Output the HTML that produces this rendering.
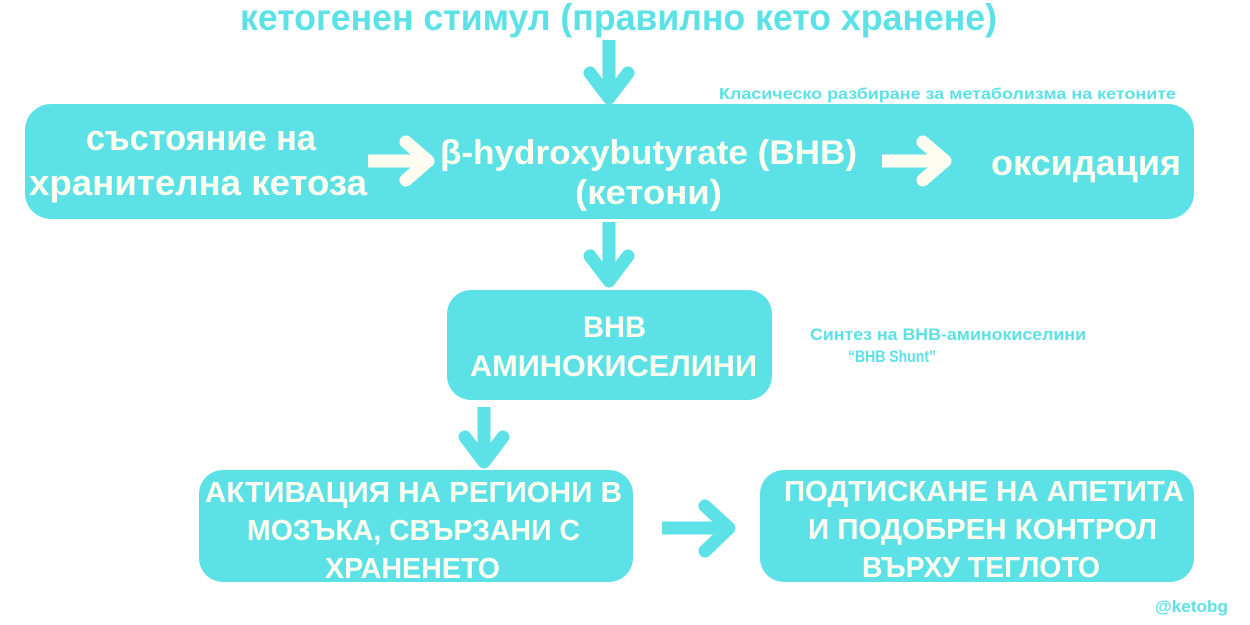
<!DOCTYPE html>
<html><head><meta charset="utf-8"><style>
html,body{margin:0;padding:0;background:#fff;width:1250px;height:625px;overflow:hidden}
svg{display:block}
text{font-family:"Liberation Sans","Noto Sans CJK SC",sans-serif;font-weight:bold}
.w{fill:#fffdf0}
.c{fill:#5ce1e6}
</style></head><body>
<svg width="1250" height="625" viewBox="0 0 1250 625" xmlns="http://www.w3.org/2000/svg">
<g fill="#5ce1e6">
<rect x="25" y="104" width="1169" height="115" rx="26"/>
<rect x="447" y="290" width="325" height="110" rx="24"/>
<rect x="199" y="470" width="434" height="112" rx="24"/>
<rect x="760" y="470" width="434" height="112" rx="24"/>
</g>
<g stroke="#5ce1e6" fill="none" stroke-width="13" stroke-linejoin="round">
<line x1="609" y1="40" x2="609" y2="95"/>
<polyline points="590,73 609,98 628,73" stroke-linecap="round"/>
<line x1="609" y1="222" x2="609" y2="278"/>
<polyline points="590,256 609,281 628,256" stroke-linecap="round"/>
<line x1="484" y1="407" x2="484" y2="460"/>
<polyline points="465,437 484,462 503,437" stroke-linecap="round"/>
<line x1="662" y1="528" x2="727" y2="528"/>
<polyline points="705,506 729,528 705,551" stroke-linecap="round"/>
</g>
<g stroke="#fffdf0" fill="none" stroke-width="13" stroke-linejoin="round">
<line x1="368" y1="161" x2="425" y2="161"/>
<polyline points="406,142 428,161 406,180" stroke-linecap="round"/>
<line x1="882" y1="161" x2="942" y2="161"/>
<polyline points="923,142 945,161 923,180" stroke-linecap="round"/>
</g>
<text class="c" x="240" y="30" font-size="37" textLength="757" lengthAdjust="spacingAndGlyphs">кетогенен стимул (правилно кето хранене)</text>
<text class="c" x="719" y="99" font-size="16" textLength="457" lengthAdjust="spacingAndGlyphs">Класическо разбиране за метаболизма на кетоните</text>
<text class="w" x="86" y="150" font-size="36" textLength="230" lengthAdjust="spacingAndGlyphs">състояние на</text>
<text class="w" x="29" y="195" font-size="36" textLength="338" lengthAdjust="spacingAndGlyphs">хранителна кетоза</text>
<text class="w" x="440" y="164" font-size="34" textLength="417" lengthAdjust="spacingAndGlyphs">β-hydroxybutyrate (BHB)</text>
<text class="w" x="575" y="204" font-size="34" textLength="147" lengthAdjust="spacingAndGlyphs">(кетони)</text>
<text class="w" x="991" y="175" font-size="36" textLength="190" lengthAdjust="spacingAndGlyphs">оксидация</text>
<text class="w" x="583" y="337" font-size="30" textLength="63" lengthAdjust="spacingAndGlyphs">BHB</text>
<text class="w" x="470" y="376" font-size="30" textLength="287" lengthAdjust="spacingAndGlyphs">АМИНОКИСЕЛИНИ</text>
<text class="c" x="810" y="340" font-size="17" textLength="276" lengthAdjust="spacingAndGlyphs">Синтез на BHB-аминокиселини</text>
<text class="c" x="848" y="362" font-size="17" textLength="88" lengthAdjust="spacingAndGlyphs">“BHB Shunt”</text>
<text class="w" x="205" y="502" font-size="29" textLength="417" lengthAdjust="spacingAndGlyphs">АКТИВАЦИЯ НА РЕГИОНИ В</text>
<text class="w" x="247" y="540" font-size="29" textLength="333" lengthAdjust="spacingAndGlyphs">МОЗЪКА, СВЪРЗАНИ С</text>
<text class="w" x="325" y="578" font-size="29" textLength="175" lengthAdjust="spacingAndGlyphs">ХРАНЕНЕТО</text>
<text class="w" x="784" y="501" font-size="29" textLength="400" lengthAdjust="spacingAndGlyphs">ПОДТИСКАНЕ НА АПЕТИТА</text>
<text class="w" x="808" y="539" font-size="29" textLength="349" lengthAdjust="spacingAndGlyphs">И ПОДОБРЕН КОНТРОЛ</text>
<text class="w" x="862" y="577" font-size="29" textLength="238" lengthAdjust="spacingAndGlyphs">ВЪРХУ ТЕГЛОТО</text>
<text class="c" x="1155" y="612" font-size="17" textLength="73" lengthAdjust="spacingAndGlyphs">@ketobg</text>
</svg>
</body></html>
